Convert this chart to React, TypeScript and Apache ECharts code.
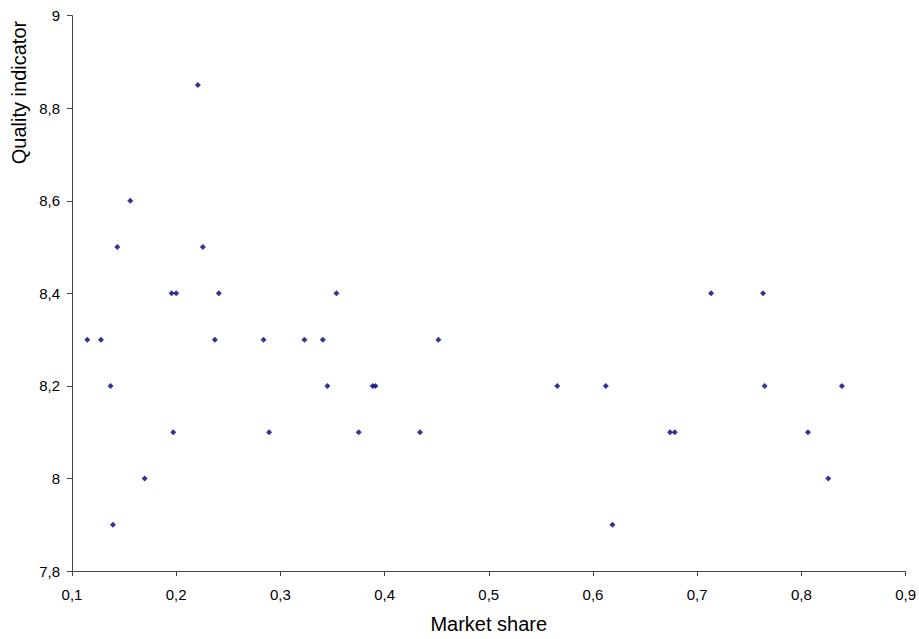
import React, { useEffect, useRef } from "react";
import * as echarts from "echarts";

const marketShare = [
  0.1147, 0.1278, 0.137, 0.1393, 0.1435, 0.1559, 0.1697, 0.1956, 0.1972, 0.2,
  0.2208, 0.2256, 0.2371, 0.2409, 0.2838, 0.2892, 0.3231, 0.3407, 0.3451, 0.3538,
  0.3752, 0.3886, 0.3912, 0.434, 0.4516, 0.5657, 0.6123, 0.6187, 0.674, 0.6785,
  0.7133, 0.7632, 0.7647, 0.8063, 0.8258, 0.8389,
];
const quality = [
  8.3, 8.3, 8.2, 7.9, 8.5, 8.6, 8.0, 8.4, 8.1, 8.4,
  8.85, 8.5, 8.3, 8.4, 8.3, 8.1, 8.3, 8.3, 8.2, 8.4,
  8.1, 8.2, 8.2, 8.1, 8.3, 8.2, 8.2, 7.9, 8.1, 8.1,
  8.4, 8.4, 8.2, 8.1, 8.0, 8.2,
];

const xTitle = "Market share";
const yTitle = "Quality indicator";

const fmt = (v: number) => {
  const r = Math.round(v * 10) / 10;
  return String(r).replace(".", ",");
};

export default function App() {
  const ref = useRef<HTMLDivElement>(null);
  useEffect(() => {
    if (!ref.current) return;
    const chart = echarts.init(ref.current, undefined, { renderer: "svg" });
    const font = "'Liberation Sans', Arial, sans-serif";
    chart.setOption({
      animation: false,
      backgroundColor: "#ffffff",
      textStyle: { fontFamily: font },
      grid: { left: 72, right: 12.7, top: 15.7, bottom: 66.3, containLabel: false },
      xAxis: {
        type: "value",
        min: 0.1,
        max: 0.9,
        interval: 0.1,
        name: xTitle,
        nameLocation: "middle",
        nameGap: 43,
        nameTextStyle: { color: "#000", fontSize: 20, fontFamily: font },
        axisLine: { show: true, onZero: false, lineStyle: { color: "#444", width: 1 } },
        axisTick: { show: true, inside: false, length: 5, lineStyle: { color: "#444" } },
        axisLabel: { color: "#000", fontSize: 15, margin: 16, formatter: fmt, fontFamily: font },
        splitLine: { show: false },
      },
      yAxis: {
        type: "value",
        min: 7.8,
        max: 9,
        interval: 0.2,
        axisLine: { show: true, onZero: false, lineStyle: { color: "#444", width: 1 } },
        axisTick: { show: true, inside: false, length: 5, lineStyle: { color: "#444" } },
        axisLabel: { color: "#000", fontSize: 15, margin: 12, formatter: fmt, fontFamily: font },
        splitLine: { show: false },
      },
      graphic: [
        {
          type: "text",
          x: 18.5,
          y: 92.5,
          rotation: Math.PI / 2,
          style: {
            text: yTitle,
            fill: "#000",
            fontSize: 20,
            fontFamily: font,
            align: "center",
            verticalAlign: "middle",
          },
        },
      ],
      series: [
        {
          type: "scatter",
          symbol: "diamond",
          symbolSize: 6,
          itemStyle: { color: "#000080" },
          data: marketShare.map((x, i) => [x, quality[i]]),
        },
      ],
    });
    return () => chart.dispose();
  }, []);
  return <div ref={ref} style={{ width: 919, height: 639, position: "absolute", left: 0, top: 0 }} />;
}
